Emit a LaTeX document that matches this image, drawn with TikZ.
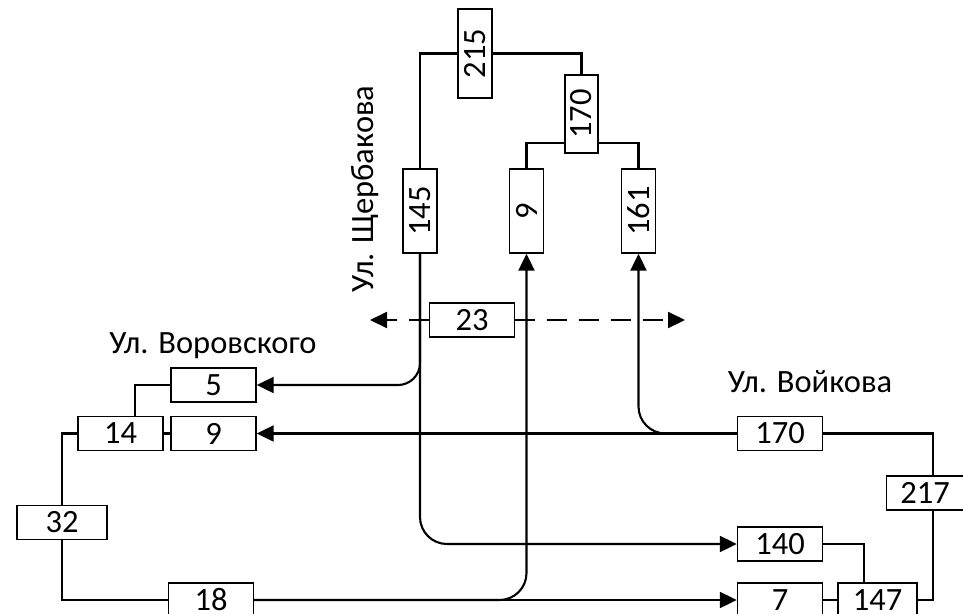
\documentclass[tikz,border=0pt]{standalone}
\usepackage{fontspec}
\setmainfont{Carlito}
\usepackage{graphicx}
\usetikzlibrary{arrows.meta}

\begin{document}
\begin{tikzpicture}[
  x=0.02cm, y=-0.02cm,
  font=\fontsize{18.5}{22}\selectfont,
  box/.style={
    rectangle, draw, line width=0.8pt, fill=white, inner sep=0pt,
    minimum width=1.7cm, minimum height=0.68cm
  },
  vbox/.style={box, minimum width=0.68cm, minimum height=1.68cm},
  link/.style={line width=1.2pt},
  arr/.style={link, -{Triangle[length=0.34cm, width=0.32cm]}},
  street/.style={inner sep=0pt},
]

\useasboundingbox (0,0) rectangle (963,613);

%% ════════════════════════════════════════════════
%% Ul. Shcherbakova — top tree
%% ════════════════════════════════════════════════
\node[vbox, minimum height=1.78cm] (n215) at (475,53.5) {\rotatebox{90}{215}};
\node[vbox, minimum width=0.66cm, minimum height=1.56cm] (n170t) at (581.5,114) {\rotatebox{90}{170}};
\node[vbox] (n145) at (420,211) {\rotatebox{90}{145}};
\node[vbox] (n9t)  at (526.5,211) {\rotatebox{90}{9}};
\node[vbox] (n161) at (638.5,211) {\rotatebox{90}{161}};

\node[street, rotate=90] (shch) at (365,189) {Ул. Щербакова};

%% crossing flow
\node[box] (n23) at (472,320) {23};
\coordinate (dl) at (370,320);
\coordinate (dr) at (685,320);

%% ════════════════════════════════════════════════
%% Ul. Vorovskogo — left side
%% ════════════════════════════════════════════════
\node[street] (voro) at (213,346) {Ул. Воровского};
\node[box] (n5)  at (213.5,385) {5};
\node[box] (n14) at (120.5,433.5) {14};
\node[box] (n9l) at (213.5,433.5) {9};
\node[box, minimum width=1.8cm] (n32) at (62,522.5) {32};
\node[box] (n18) at (211,600) {18};

%% ════════════════════════════════════════════════
%% Ul. Voikova — right side
%% ════════════════════════════════════════════════
\node[street] (voik) at (810,382) {Ул. Войкова};
\node[box] (n170r) at (780,433.5) {170};
\node[box, minimum width=1.54cm] (n217) at (925,493) {217};
\node[box] (n140) at (780,544) {140};
\node[box] (n7)   at (780,600) {7};
\node[box, minimum width=1.58cm] (n147) at (877.5,600) {147};

%% ════════════════════════════════════════════════
%% CONNECTIONS
%% ════════════════════════════════════════════════

%% top tree
\draw[link] (n145.north) |- (n215.west);
\draw[link] (n215.east) -| (n170t.north);
\draw[link] ([yshift=0.22cm]n170t.south west) -| (n9t.north);
\draw[link] ([yshift=0.22cm]n170t.south east) -| (n161.north);

%% left tree
\draw[link] (n5.west) -| ([xshift=0.29cm]n14.north);
\draw[link] (n14.east) -- (n9l.west);
\draw[link] (n14.west) -| (n32.north);
\draw[link] (n32.south) |- (n18.west);

%% right tree
\draw[link] (n170r.east) -| ([xshift=0.16cm]n217.north);
\draw[link] (n147.east) -| ([xshift=0.16cm]n217.south);
\draw[link] (n140.east) -| ([xshift=-0.27cm]n147.north);
\draw[link] (n7.east) -- (n147.west);

%% flows from Shcherbakova
\draw[arr, rounded corners=0.44cm] (n145.south) |- (n5.east);
\draw[arr, rounded corners=0.54cm] (n145.south) |- (n140.west);

%% flows from Voikova
\draw[arr] (n170r.west) -- (n9l.east);
\draw[arr, rounded corners=0.54cm] (n170r.west) -| (n161.south);

%% flows from Vorovskogo
\draw[arr] (n18.east) -- (n7.west);
\draw[arr, rounded corners=0.54cm] (n18.east) -| (n9t.south);

%% 23 — both ways, dashed
\draw[arr, dash pattern=on 0.4cm off 0.24cm] (n23.west) -- (dl);
\draw[arr, dash pattern=on 0.4cm off 0.24cm] (n23.east) -- (dr);

\end{tikzpicture}
\end{document}
